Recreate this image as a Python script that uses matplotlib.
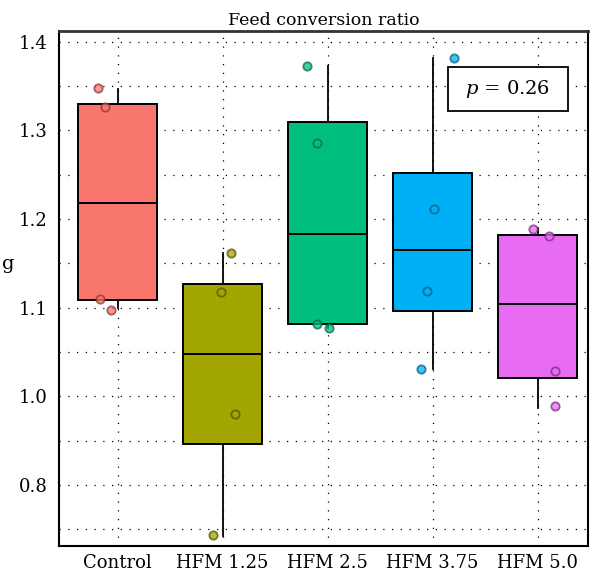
import numpy as np
import matplotlib
matplotlib.use('Agg')
import matplotlib.pyplot as plt
from matplotlib import rcParams
from matplotlib.patches import Rectangle
from matplotlib.ticker import MultipleLocator

rcParams['font.family'] = ['DejaVu Serif']
rcParams['mathtext.fontset'] = 'dejavuserif'

groups = ['Control', 'HFM 1.25', 'HFM 2.5', 'HFM 3.75', 'HFM 5.0']
colors = ['#F8766D', '#A3A500', '#00BF7D', '#00B0F6', '#E76BF3']
edge_colors = ['#8a3a33', '#555500', '#0b6a46', '#0b5f85', '#7a2f80']

# box stats (axis units)
q1 = [1.108, 0.946, 1.081, 1.096, 1.020]
med = [1.218, 1.048, 1.183, 1.165, 1.104]
q3 = [1.330, 1.127, 1.309, 1.252, 1.182]
wlo = [1.099, 0.842, 1.077, 1.031, 0.987]
whi = [1.347, 1.162, 1.373, 1.381, 1.190]

# individual observations and their jitter offsets
pts = [[1.348, 1.326, 1.110, 1.0975],
       [1.162, 1.117, 0.980, 0.844],
       [1.373, 1.286, 1.082, 1.077],
       [1.382, 1.211, 1.119, 1.031],
       [1.189, 1.181, 1.029, 0.989]]
jit = [[-0.19, -0.12, -0.17, -0.06],
       [0.08, -0.02, 0.12, -0.09],
       [-0.20, -0.10, -0.10, 0.01],
       [0.20, 0.01, -0.05, -0.11],
       [-0.04, 0.11, 0.17, 0.17]]

# tick labels as printed in the figure
yticks = [1.4, 1.3, 1.2, 1.1, 1.0, 0.9]
ytick_labels = ['1.4', '1.3', '1.2', '1.1', '1.0', '0.8']
p_text = r'$p$ = 0.26'

fig = plt.figure(figsize=(6, 5.73), dpi=100)
ax = fig.add_axes([0.098, 0.047, 0.882, 0.899])

stats = []
for i in range(len(groups)):
    stats.append({'med': med[i], 'q1': q1[i], 'q3': q3[i],
                  'whislo': wlo[i], 'whishi': whi[i], 'fliers': [],
                  'label': groups[i]})

bp = ax.bxp(stats, positions=range(len(groups)), widths=0.75,
            patch_artist=True, showcaps=False, showfliers=False,
            boxprops=dict(linewidth=1.4, edgecolor='black'),
            medianprops=dict(color='black', linewidth=1.4),
            whiskerprops=dict(color='black', linewidth=1.3))
for patch, c in zip(bp['boxes'], colors):
    patch.set_facecolor(c)
    patch.set_zorder(2)

for i in range(len(groups)):
    xs = np.array(jit[i]) + i
    ax.scatter(xs, pts[i], s=36, facecolor=colors[i], alpha=0.75,
               edgecolor=edge_colors[i], linewidth=1.3, zorder=4)

ax.set_xlim(-0.56, 4.48)
ax.set_ylim(0.831, 1.412)
ax.set_yticks(yticks)
ax.set_yticklabels(ytick_labels)
ax.yaxis.set_minor_locator(MultipleLocator(0.05))
ax.set_xticks(range(len(groups)))
ax.set_xticklabels(groups)
ax.tick_params(axis='both', which='both', length=0, labelsize=13)
ax.tick_params(axis='x', pad=6)
ax.tick_params(axis='y', pad=8)

ax.grid(True, which='both', color='black', linestyle=(0, (1, 6)), linewidth=0.9)
ax.set_axisbelow(True)
for s in ax.spines.values():
    s.set_linewidth(1.5)
    s.set_color('black')
ax.spines['top'].set_color('#333333')
ax.spines['top'].set_linewidth(2)

ax.set_title('Feed conversion ratio', fontsize=12.5, pad=4)
fig.text(0.003, 0.54, 'g', fontsize=14, va='center', ha='left')

ax.add_patch(Rectangle((0.735, 0.845), 0.227, 0.085, transform=ax.transAxes,
                       facecolor='white', edgecolor='black', linewidth=1.3,
                       zorder=6))
ax.text(0.8485, 0.8875, p_text, transform=ax.transAxes, fontsize=14,
        ha='center', va='center', zorder=7)

plt.savefig('out.png', dpi=100)
